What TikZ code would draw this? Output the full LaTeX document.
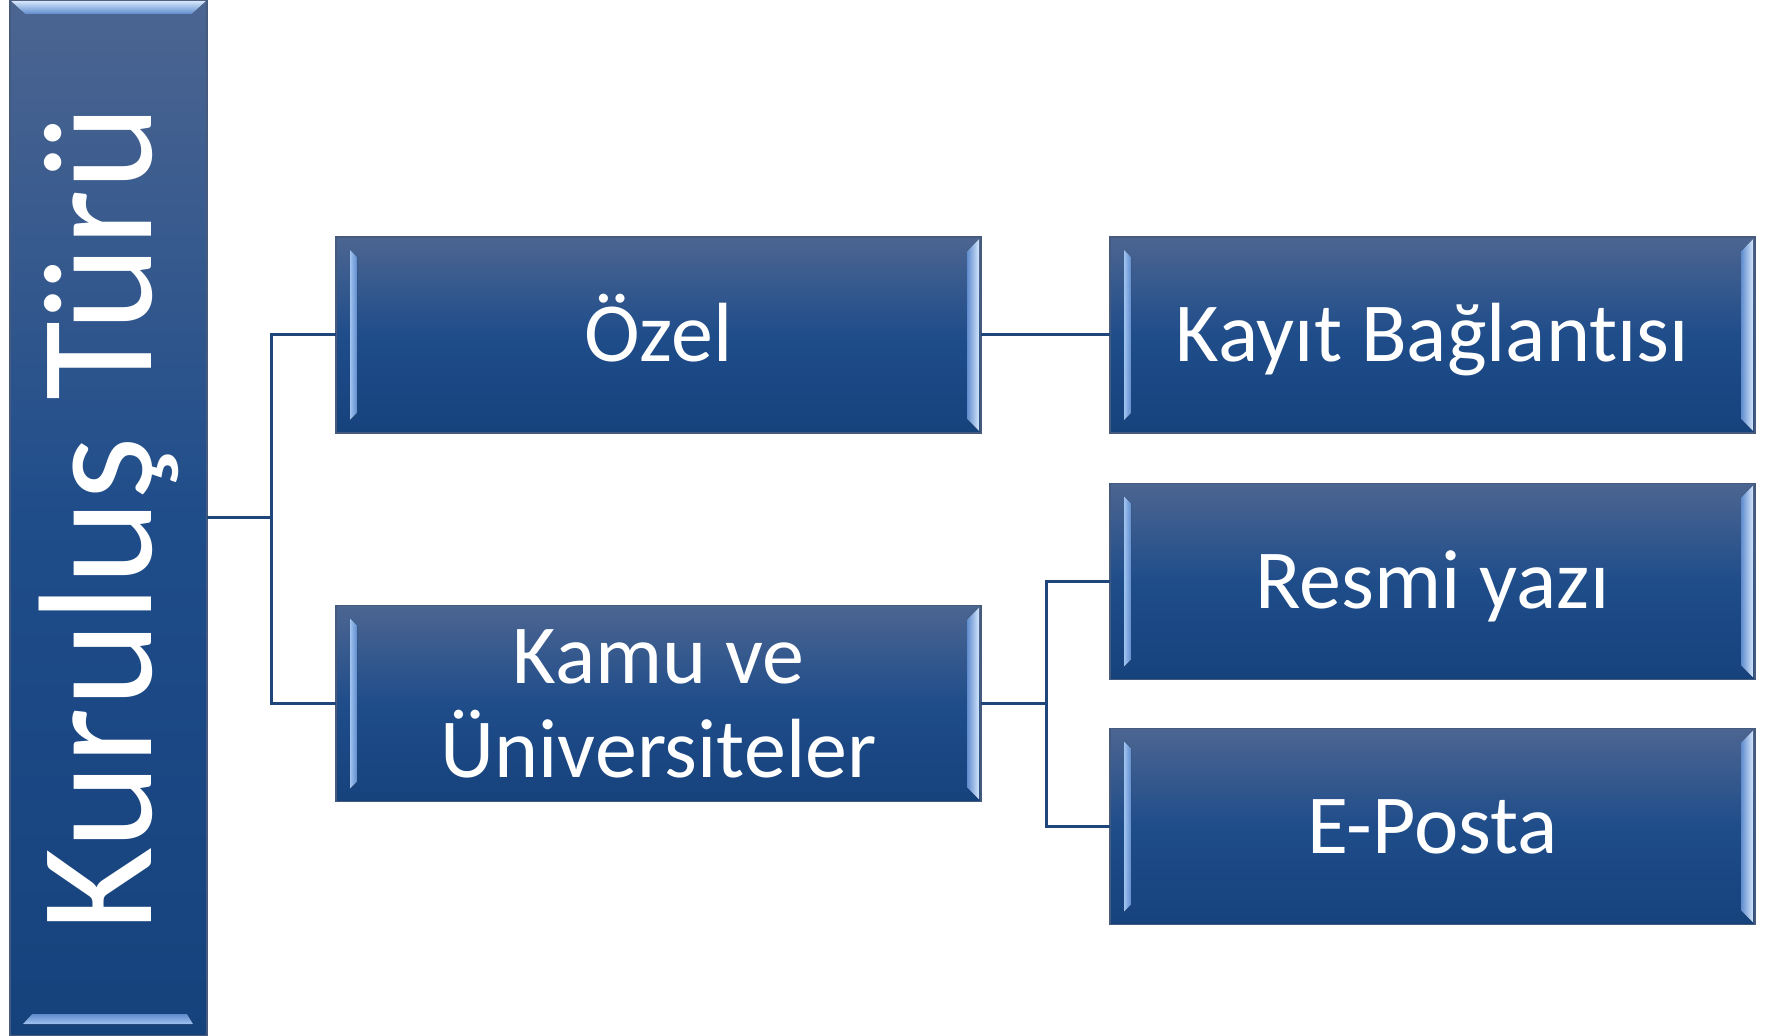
\documentclass[tikz,border=0pt]{standalone}
\usepackage{fontspec}
\setmainfont{Carlito}[Ligatures=NoCommon]
\definecolor{boxtop}{RGB}{76,101,145}
\definecolor{boxmid}{RGB}{31,77,138}
\definecolor{boxbot}{RGB}{22,66,124}
\definecolor{boxedge}{RGB}{70,90,125}
\definecolor{linkblue}{RGB}{31,70,122}
\definecolor{bevdark}{RGB}{95,140,205}
\definecolor{bevlight}{RGB}{160,195,240}
\definecolor{bevwhite}{RGB}{212,230,252}
\tikzset{
  kutu/.style={draw=boxedge, line width=.6pt, top color=boxtop, bottom color=boxbot,
    middle color=boxmid, inner sep=0pt, outer sep=0pt, text=white,
    minimum width=322.5pt, minimum height=98pt,
    font=\fontsize{42}{47}\selectfont, align=center},
  tekkutu/.style={kutu, text height=27pt, text depth=0pt},
  baglanti/.style={draw=linkblue, line width=1.5pt},
}
% light edges left and right of a box
\newcommand{\yanpah}[1]{%
  \fill[left color=bevlight, right color=bevdark]
    ([shift={(7pt,-6.5pt)}]#1.north west) -- ([shift={(10.5pt,-10pt)}]#1.north west)
    -- ([shift={(10.5pt,10pt)}]#1.south west) -- ([shift={(7pt,6.5pt)}]#1.south west) -- cycle;
  \fill[left color=bevdark, right color=bevwhite]
    ([shift={(-1pt,-1pt)}]#1.north east) -- ([shift={(-7pt,-7pt)}]#1.north east)
    -- ([shift={(-7pt,7pt)}]#1.south east) -- ([shift={(-1pt,1pt)}]#1.south east) -- cycle;
}
\begin{document}
\begin{tikzpicture}[x=0.5pt, y=-0.5pt]
\useasboundingbox (0,0) rectangle (1772,1036);
\node[kutu, minimum width=98.5pt, minimum height=518pt] (kurulus) at (108.5,518)
  {\rotatebox{90}{\fontsize{81}{90}\selectfont Kuruluş Türü}};
\node[tekkutu] (ozel) at (658.5,335) {Özel};
\node[kutu] (kamu) at (658.5,703.5) {Kamu ve\\Üniversiteler};
\node[tekkutu] (kayit) at (1432.5,335) {Kayıt Bağlantısı};
\node[tekkutu] (resmi) at (1432.5,581.5) {Resmi yazı};
\node[tekkutu] (eposta) at (1432.5,826.5) {E-Posta};
\foreach \k in {ozel,kamu,kayit,resmi,eposta} {\yanpah{\k}}
% top and bottom edges of the side bar
\fill[top color=bevwhite, bottom color=bevdark]
  ([shift={(.5pt,-.5pt)}]kurulus.north west) -- ([shift={(-.5pt,-.5pt)}]kurulus.north east)
  -- ([shift={(-7.5pt,-7pt)}]kurulus.north east) -- ([shift={(7.5pt,-7pt)}]kurulus.north west) -- cycle;
\fill[top color=bevdark, bottom color=bevlight]
  ([shift={(11pt,11pt)}]kurulus.south west) -- ([shift={(-10pt,11pt)}]kurulus.south east)
  -- ([shift={(-7pt,6pt)}]kurulus.south east) -- ([shift={(6.5pt,6pt)}]kurulus.south west) -- cycle;
% connectors
\coordinate (solcatal) at (271,518);
\coordinate (sagcatal) at (1046,703.5);
\draw[baglanti] (kurulus.east) -- (solcatal);
\draw[baglanti] (ozel.west) -| (solcatal);
\draw[baglanti] (kamu.west) -| (solcatal);
\draw[baglanti] (ozel.east) -- (kayit.west);
\draw[baglanti] (kamu.east) -- (sagcatal);
\draw[baglanti] (resmi.west) -| (sagcatal);
\draw[baglanti] (eposta.west) -| (sagcatal);
\end{tikzpicture}
\end{document}
